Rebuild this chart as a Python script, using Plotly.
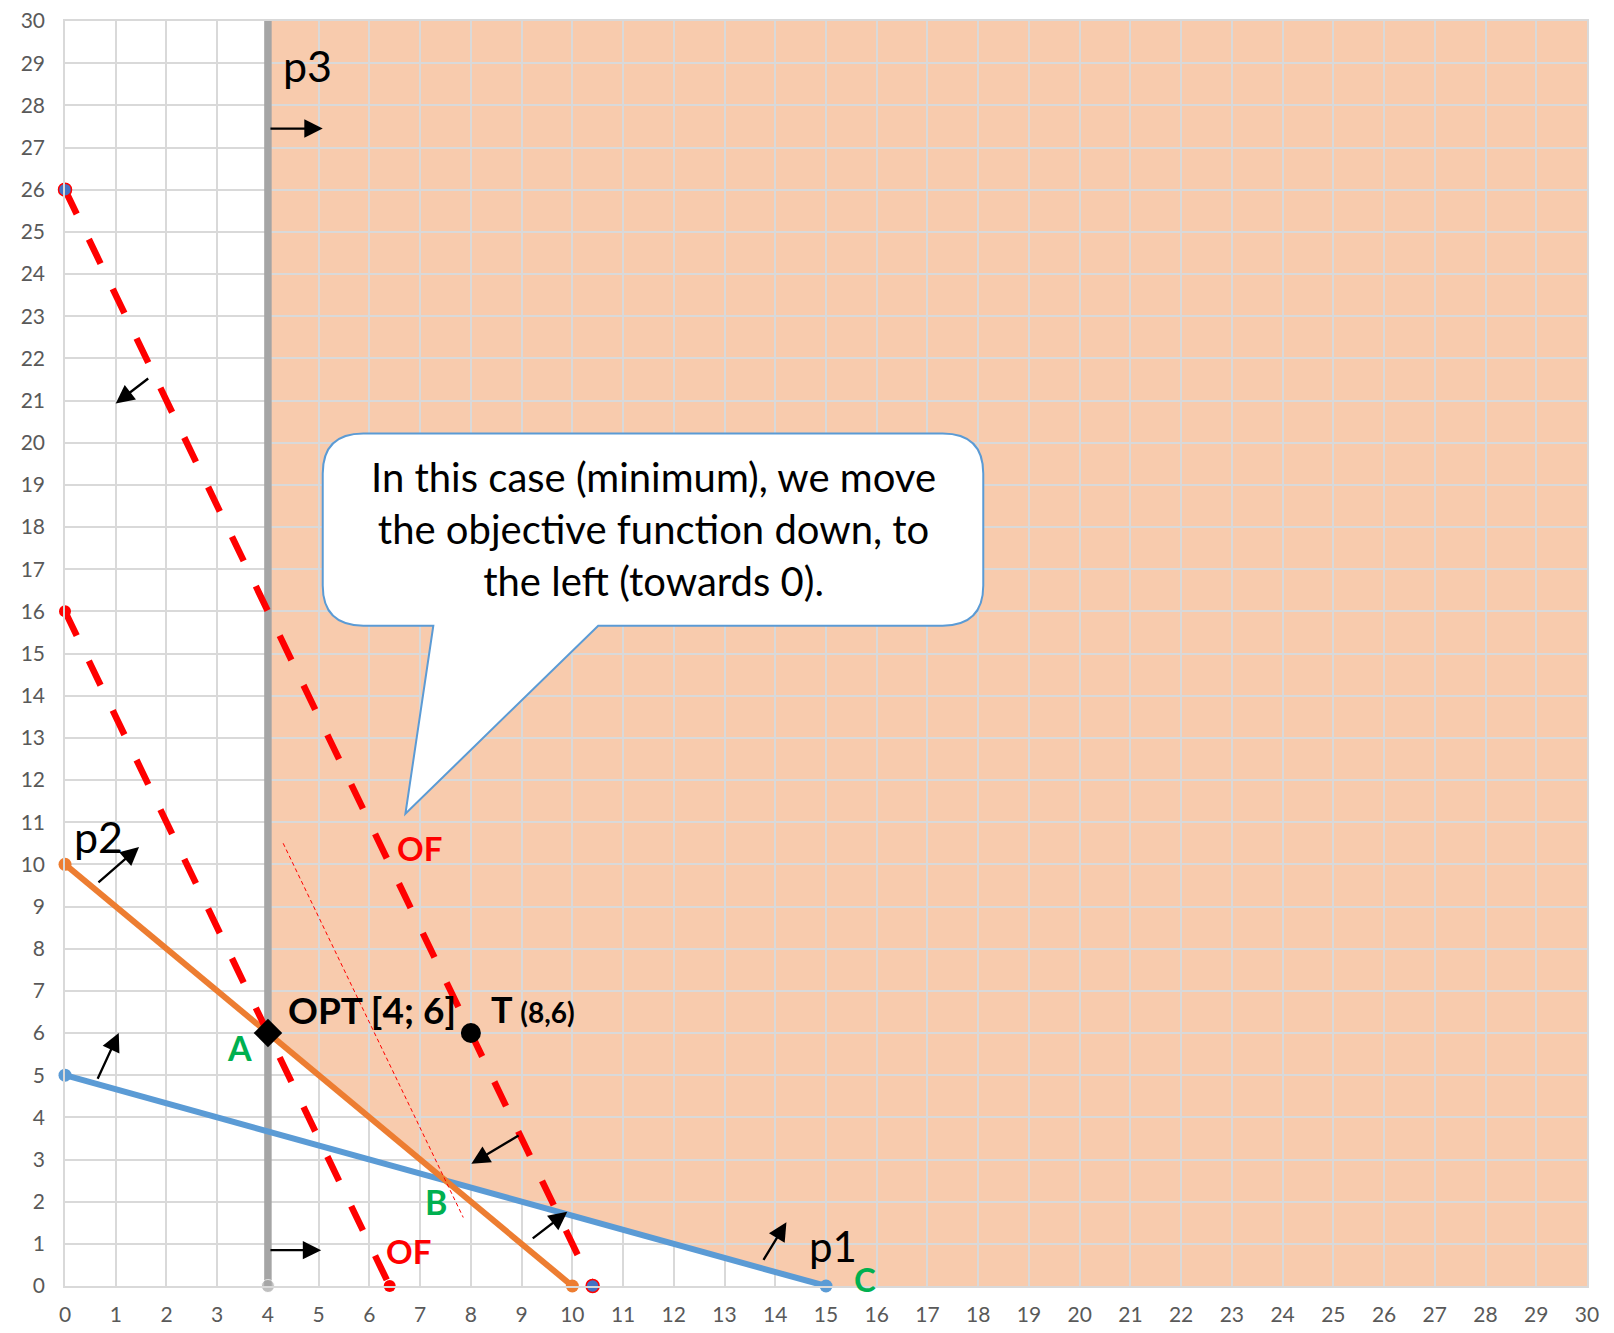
import plotly.graph_objects as go

# constraint lines p1, p2, p3 (end points)
p1_x = [0, 15]
p1_y = [5, 0]
p2_x = [0, 10]
p2_y = [10, 0]
p3_x = [4, 4]
p3_y = [0, 30]

# objective function lines
of_high_x = [0, 10.4]
of_high_y = [26, 0]
of_low_x = [0, 6.4]
of_low_y = [16, 0]
of_thin_x = [4.3, 7.85]
of_thin_y = [10.5, 1.625]

# feasible region corners
region_x = [4, 4, 7.5, 15, 30, 30]
region_y = [30, 6, 2.5, 0, 0, 30]

opt_x = [4]
opt_y = [6]
t_x = [8]
t_y = [6]

ticks = list(range(0, 31))

FONT = "Lato"
BLUE = "#5b9bd5"
ORANGE = "#ed7d31"
GREY = "#a5a5a5"
RED = "#ff0000"
GREEN = "#00b050"

fig = go.Figure()

fig.add_trace(go.Scatter(x=p3_x, y=p3_y, mode="lines+markers",
                         line=dict(color=GREY, width=7.5),
                         marker=dict(color=GREY, size=[13, 0])))
fig.add_trace(go.Scatter(x=p1_x, y=p1_y, mode="lines+markers",
                         line=dict(color=BLUE, width=6),
                         marker=dict(color=BLUE, size=13)))
fig.add_trace(go.Scatter(x=p2_x, y=p2_y, mode="lines+markers",
                         line=dict(color=ORANGE, width=6),
                         marker=dict(color=ORANGE, size=13)))
fig.add_trace(go.Scatter(x=of_high_x, y=of_high_y, mode="lines+markers",
                         line=dict(color=RED, width=6.5, dash="27px,28px"),
                         marker=dict(color="#4472c4", size=13,
                                     line=dict(color=RED, width=1.5))))
fig.add_trace(go.Scatter(x=of_low_x, y=of_low_y, mode="lines+markers",
                         line=dict(color=RED, width=6.5, dash="27px,28px"),
                         marker=dict(color=RED, size=12)))
fig.add_trace(go.Scatter(x=of_thin_x, y=of_thin_y, mode="lines",
                         line=dict(color=RED, width=1, dash="4px,3px")))
fig.add_trace(go.Scatter(x=opt_x, y=opt_y, mode="markers",
                         marker=dict(symbol="diamond", color="black", size=22)))
fig.add_trace(go.Scatter(x=t_x, y=t_y, mode="markers",
                         marker=dict(color="black", size=20)))
fig.update_traces(cliponaxis=False, hoverinfo="skip")

# feasible region below the grid
region_path = "M " + " L ".join(f"{x},{y}" for x, y in zip(region_x, region_y)) + " Z"
fig.add_shape(type="path", path=region_path, xref="x", yref="y",
              fillcolor="#f8cbad", line=dict(width=0), layer="below")

# callout bubble
bx0, bx1, by0, by1 = 5.08, 18.1, 15.66, 20.22
rx, ry = 0.8, 0.95
tail_a, tail_b, tip_x, tip_y = 7.26, 10.51, 6.71, 11.2
bubble = (
    f"M {bx0 + rx},{by1} L {bx1 - rx},{by1} Q {bx1},{by1} {bx1},{by1 - ry} "
    f"L {bx1},{by0 + ry} Q {bx1},{by0} {bx1 - rx},{by0} "
    f"L {tail_b},{by0} L {tip_x},{tip_y} L {tail_a},{by0} "
    f"L {bx0 + rx},{by0} Q {bx0},{by0} {bx0},{by0 + ry} "
    f"L {bx0},{by1 - ry} Q {bx0},{by1} {bx0 + rx},{by1} Z"
)
fig.add_shape(type="path", path=bubble, xref="x", yref="y",
              fillcolor="white", line=dict(color=BLUE, width=2), layer="above")

fig.add_annotation(x=11.59, y=17.95, xref="x", yref="y", showarrow=False,
                   text="In this case (minimum), we move<br>the objective function down, to<br>the left (towards 0).",
                   font=dict(family=FONT, size=40, color="black"), align="center")

# direction arrows (tail x, tail y, head x, head y)
arrows = [
    (4.02, 27.45, 5.08, 27.45),
    (4.02, 0.85, 5.05, 0.85),
    (1.67, 21.55, 1.0, 20.93),
    (0.63, 9.54, 1.46, 10.41),
    (0.63, 4.88, 1.06, 6.0),
    (8.97, 3.59, 8.01, 2.9),
    (9.19, 1.1, 9.9, 1.76),
    (13.75, 0.585, 14.22, 1.51),
]
for ax_, ay_, hx, hy in arrows:
    fig.add_annotation(x=hx, y=hy, ax=ax_, ay=ay_, xref="x", yref="y",
                       axref="x", ayref="y", text="", showarrow=True,
                       arrowhead=2, arrowsize=1.6, arrowwidth=2.3,
                       arrowcolor="black", standoff=0, startstandoff=0)

# labels (text, x, y, anchor, size, color, bold)
labels = [
    ("p3", 4.25, 28.95, "left", 43, "black", False),
    ("p2", 0.14, 10.66, "left", 43, "black", False),
    ("p1", 14.62, 0.95, "left", 42, "black", False),
    ("OF", 6.51, 10.39, "left", 33, RED, True),
    ("OF", 6.28, 0.83, "left", 33, RED, True),
    ("OPT [4; 6]", 4.35, 6.56, "left", 37, "black", True),
    ("T <span style='font-size:28px'>(8,6)</span>", 8.36, 6.56, "left", 36, "black", True),
    ("A", 3.44, 5.66, "center", 34, GREEN, True),
    ("B", 7.32, 2.0, "center", 34, GREEN, True),
    ("C", 15.52, 0.16, "left", 33, GREEN, True),
]
for txt, lx, ly, anchor, size, color, bold in labels:
    fig.add_annotation(x=lx, y=ly, xref="x", yref="y", showarrow=False,
                       text=f"<b>{txt}</b>" if bold else txt, xanchor=anchor,
                       font=dict(family=FONT, size=size, color=color))

axis_style = dict(
    range=[0, 30], tickvals=ticks, showgrid=True, gridcolor="#d9d9d9",
    gridwidth=1.5, showline=True, linecolor="#d9d9d9", linewidth=1.5,
    mirror=True, zeroline=False, ticks="",
    automargin=False, ticklabeloverflow="allow",
    tickfont=dict(family=FONT, size=21, color="#595959"), fixedrange=True,
)
fig.update_xaxes(**axis_style, ticklabelstandoff=9)
fig.update_yaxes(**axis_style, ticklabelstandoff=14)

fig.update_layout(
    width=1598, height=1317,
    margin=dict(l=57, r=19, t=13, b=39),
    plot_bgcolor="white", paper_bgcolor="white",
    showlegend=False,
)

fig.write_html("out.html")
